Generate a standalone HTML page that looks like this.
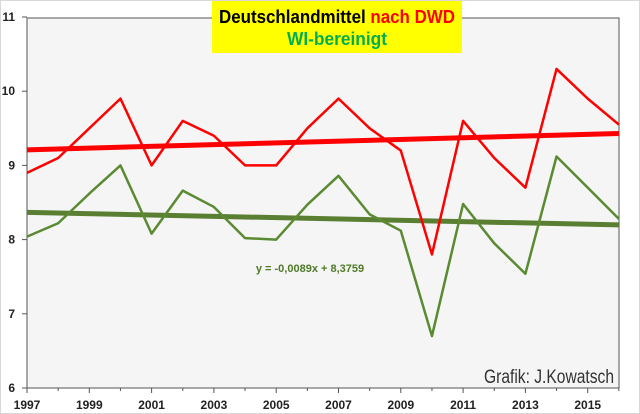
<!DOCTYPE html>
<html><head><meta charset="utf-8"><style>
body{margin:0;background:#fff;}
svg{display:block;font-family:"Liberation Sans",Arial,sans-serif;}
</style></head><body>
<svg id="c" width="640" height="414">
<rect x="0.5" y="0.5" width="639" height="413" fill="#fff" stroke="#d8d8d8"/>
<rect x="27" y="18" width="592" height="370" fill="#f5f5f5" stroke="#555" stroke-width="1"/>
<g id="axes"></g>
<g id="series"></g>
<rect x="212" y="1" width="250" height="52" fill="#ffff00"/>
<text x="337" y="23" text-anchor="middle" font-size="18" font-weight="bold" textLength="236" lengthAdjust="spacingAndGlyphs"><tspan fill="#000">Deutschlandmittel </tspan><tspan fill="#ff0000">nach DWD</tspan></text>
<text x="337" y="45" text-anchor="middle" font-size="18" font-weight="bold" fill="#00b050" textLength="100" lengthAdjust="spacingAndGlyphs">WI-bereinigt</text>
<text x="310" y="272" text-anchor="middle" font-size="11" font-weight="bold" fill="#4f7a28">y = -0,0089x + 8,3759</text>
<text x="614" y="383" text-anchor="end" font-size="19" fill="#333" textLength="130" lengthAdjust="spacingAndGlyphs">Grafik: J.Kowatsch</text>
</svg>
<script>
const years=[1997,1998,1999,2000,2001,2002,2003,2004,2005,2006,2007,2008,2009,2010,2011,2012,2013,2014,2015,2016];
const dwdValues=[8.9,9.1,9.5,9.9,9.0,9.6,9.4,9.0,9.0,9.5,9.9,9.5,9.2,7.8,9.6,9.1,8.7,10.3,9.9,9.55];
const wiValues=[8.04,8.22,8.62,9.0,8.08,8.66,8.44,8.02,8.0,8.47,8.86,8.34,8.12,6.7,8.48,7.95,7.54,9.12,8.7,8.28];
const dwdTrend=[9.21,9.43];
const wiTrend=[8.367,8.198];
const yTicks=[6,7,8,9,10,11];
const xTickLabels=[1997,1999,2001,2003,2005,2007,2009,2011,2013,2015];
const NS="http://www.w3.org/2000/svg";
const X=y=>27+(y-1997)*31.15;
const Y=v=>388-(v-6)*74.2;
function mk(t,a,p){const e=document.createElementNS(NS,t);for(const k in a)e.setAttribute(k,a[k]);p.appendChild(e);return e;}
const ax=document.getElementById('axes'),sr=document.getElementById('series');
yTicks.forEach(v=>{
 const l=mk('line',{x1:22,x2:27,y1:Y(v),y2:Y(v),stroke:'#555'},ax);
 
 
 const t=mk('text',{x:15,y:Y(v)+4,'text-anchor':'end','font-size':12,'font-weight':'bold',fill:'#222'},ax);t.textContent=v;
 
 
});
years.forEach(y=>{
 const l=mk('line',{x1:X(y),x2:X(y),y1:388,y2:(y%2?393:391),stroke:'#555'},ax);
 
 
});
xTickLabels.forEach(y=>{
 const t=mk('text',{x:X(y),y:409,'text-anchor':'middle','font-size':12,'font-weight':'bold',fill:'#222'},ax);t.textContent=y;
 
 
});
function line(vals,color,w,name){
 const p=mk('polyline',{points:vals.map((v,i)=>X(years[i])+','+Y(v)).join(' '),fill:'none',stroke:color,'stroke-width':w,'stroke-linejoin':'round'},sr);
 
 
}
function trend(tv,color,name){
 const l=mk('line',{x1:X(years[0]),y1:Y(tv[0]),x2:X(years[years.length-1]),y2:Y(tv[1]),stroke:color,'stroke-width':5},sr);
 
 
}
trend(dwdTrend,'#ff0000','dwd-trend-line');
trend(wiTrend,'#5a7f32','wi-trend-line');
line(dwdValues,'#ff0000',2.5,'dwd-series-line');
line(wiValues,'#5a8a32',2.5,'wi-series-line');
</script>
</body></html>
